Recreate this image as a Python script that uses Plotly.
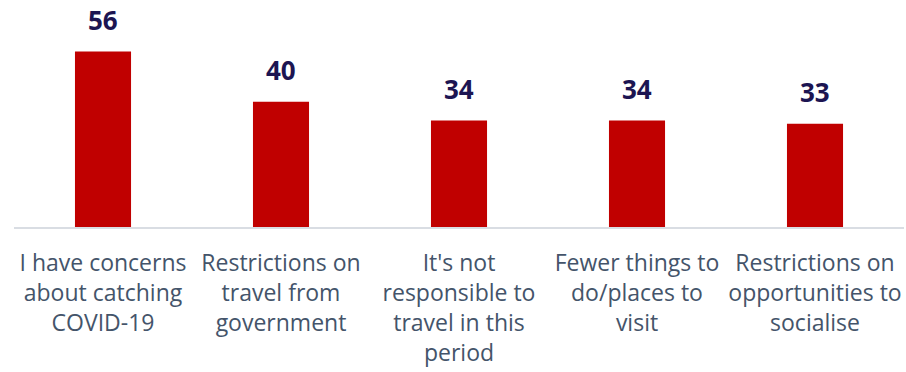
import plotly.graph_objects as go

categories = [
    "I have concerns<br>about catching<br>COVID-19",
    "Restrictions on<br>travel from<br>government",
    "It's not<br>responsible to<br>travel in this<br>period",
    "Fewer things to<br>do/places to<br>visit",
    "Restrictions on<br>opportunities to<br>socialise",
]
values = [56, 40, 34, 34, 33]

fig = go.Figure()
fig.add_trace(go.Bar(
    x=categories, y=values,
    marker=dict(color="#C00000", line=dict(width=0)),
    hoverinfo="skip",
))
for c, v in zip(categories, values):
    fig.add_annotation(
        x=c, y=v, text="<b>%d</b>" % v, showarrow=False,
        yanchor="bottom", yshift=12,
        font=dict(family="Open Sans, sans-serif", size=26, color="#1C1552"),
    )

fig.update_layout(
    width=906, height=372,
    margin=dict(l=14, r=2, t=40, b=145),
    paper_bgcolor="white", plot_bgcolor="white",
    bargap=0.685,
    showlegend=False,
    xaxis=dict(
        showline=True, linecolor="#D9DDE3", linewidth=1.5,
        ticks="", showgrid=False, ticklabelstandoff=15,
        tickfont=dict(family="Open Sans, sans-serif", size=23, color="#44546A"),
        fixedrange=True,
    ),
    yaxis=dict(
        range=[0, 59.7], visible=False, showgrid=False, zeroline=False,
        fixedrange=True,
    ),
)

fig.write_html("out.html")
